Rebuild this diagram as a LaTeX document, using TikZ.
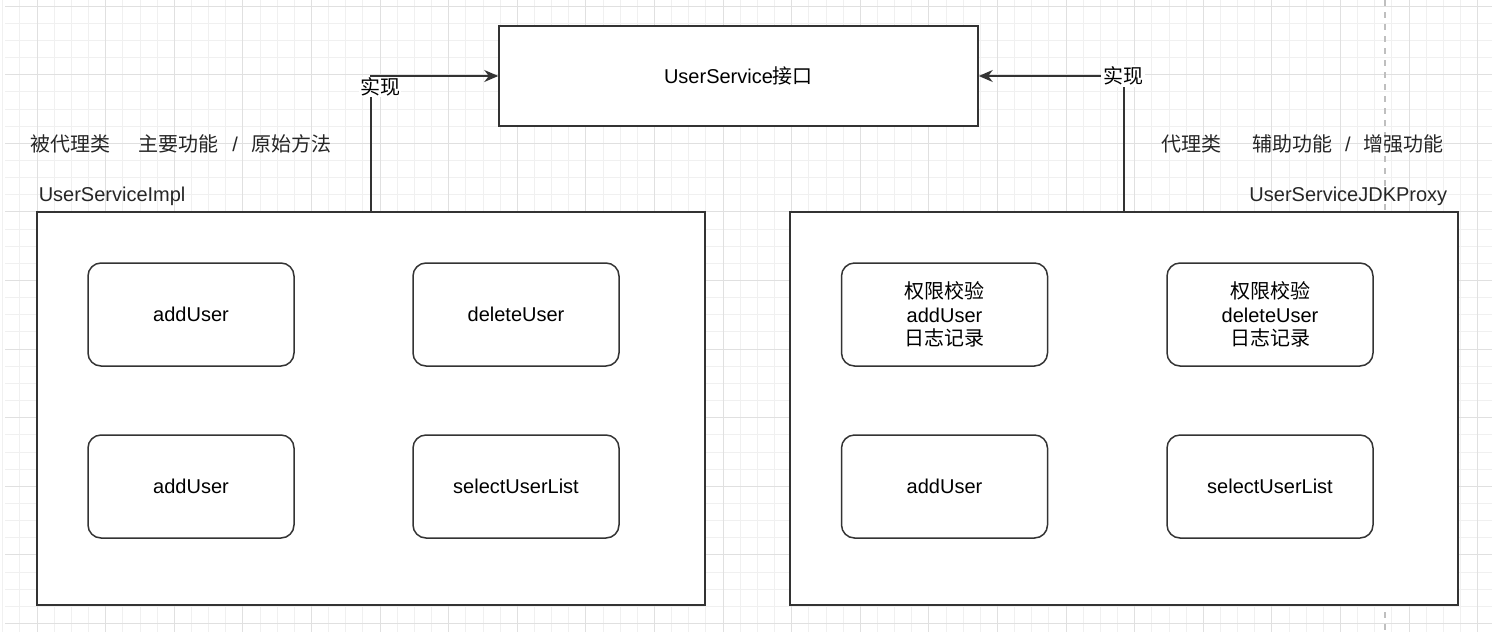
\documentclass[tikz,border=0pt]{standalone}
\usepackage{fontspec}
\setmainfont{Liberation Sans}
\newfontfamily\cjk{Noto Sans CJK SC}
\usetikzlibrary{%
  arrows.meta,%
  positioning% wg. " of "
}

\begin{document}
\begin{tikzpicture}
  [
  x=0.5pt, y=-0.5pt,
  font=\fontsize{10}{11.75}\selectfont,
  line width=0.75pt,
  draw=black, >={Stealth[length=7pt,width=6pt]},
  gridminor/.style={draw=black!6, line width=0.4pt},
  gridmajor/.style={draw=black!12, line width=0.5pt},
  ifacebox/.style={rectangle, draw=black!80, fill=white, minimum width=239.5pt, minimum height=50pt},
  classbox/.style={rectangle, draw=black!80, fill=white, minimum width=334pt, minimum height=196.5pt},
  methodbox/.style={rectangle, rounded corners=6.5pt, draw=black!80, fill=white, align=center, minimum width=103pt, minimum height=51.5pt},
  tag/.style={inner sep=0pt, text=black!85},
  ]

\useasboundingbox (0,0) rectangle (1492,632);

% background grid
\foreach \i in {0,...,86} \draw[gridminor] ({2.7+17.15*\i},0) -- ({2.7+17.15*\i},632);
\foreach \j in {0,...,36} \draw[gridminor] (5,{6+17.15*\j}) -- (1492,{6+17.15*\j});
\foreach \i in {0,...,21} \draw[gridmajor] ({37+68.6*\i},0) -- ({37+68.6*\i},632);
\foreach \j in {0,...,9} \draw[gridmajor] (5,{6+68.6*\j}) -- (1492,{6+68.6*\j});
\draw[draw=black!25, dashed, line width=0.8pt] (1385,0) -- (1385,632);

\node[ifacebox] (iface) at (738.5,76) {UserService{\cjk 接口}};

\node[classbox] (implbox) at (371,408.5) {};
\node[classbox] (proxybox) at (1124,408.5) {};

\node[tag, anchor=west] (impltitle) at (30,144) {{\cjk 被代理类}\hspace{14pt}{\cjk 主要功能}\hspace{6.8pt}/\hspace{6.8pt}{\cjk 原始方法}};
\node[tag, anchor=west] (implname) at (38,196) {UserServiceImpl};
\node[tag, anchor=east] (proxytitle) at (1444,144) {{\cjk 代理类}\hspace{15.5pt}{\cjk 辅助功能}\hspace{6.3pt}/\hspace{6.3pt}{\cjk 增强功能}};
\node[tag, anchor=east] (proxyname) at (1448,196) {UserServiceJDKProxy};

\node[methodbox] (impladd) at (191,314.5) {addUser};
\node[methodbox] (impldel) at (516,314.5) {deleteUser};
\node[methodbox] (impladdb) at (191,486.5) {addUser};
\node[methodbox] (implsel) at (516,486.5) {selectUserList};

\node[methodbox] (proxyadd) at (944.5,314.5) {{\cjk 权限校验}\\addUser\\{\cjk 日志记录}};
\node[methodbox] (proxydel) at (1270,314.5) {{\cjk 权限校验}\\deleteUser\\{\cjk 日志记录}};
\node[methodbox] (proxyaddb) at (944.5,486.5) {addUser};
\node[methodbox] (proxysel) at (1270,486.5) {selectUserList};

\draw[->, draw=black!80] (implbox.north) |- (iface.west);
\draw[->, draw=black!80] (proxybox.north) |- (iface.east);
\node[fill=white, inner sep=0.5pt] (impllink) at (380,87) {\cjk 实现};
\node[fill=white, inner sep=1pt] (proxylink) at (1123,76) {\cjk 实现};
\end{tikzpicture}
\end{document}
